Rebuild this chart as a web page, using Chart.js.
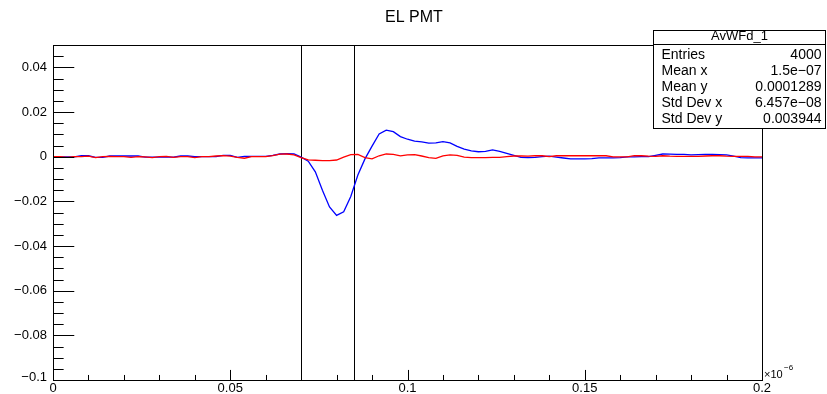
<!DOCTYPE html>
<html>
<head>
<meta charset="utf-8">
<script src="https://cdn.jsdelivr.net/npm/chart.js@4"></script>
<style>
  html, body { margin: 0; padding: 0; background: #fff; }
  canvas { display: block; }
</style>
</head>
<body>
<canvas id="c" width="827" height="394"></canvas>
<script>
// time axis in units of 1e-6
const xs = [
  0.000, 0.002, 0.004, 0.006, 0.008, 0.010, 0.012, 0.014, 0.016, 0.018,
  0.020, 0.022, 0.024, 0.026, 0.028, 0.030, 0.032, 0.034, 0.036, 0.038,
  0.040, 0.042, 0.044, 0.046, 0.048, 0.050, 0.052, 0.054, 0.056, 0.058,
  0.060, 0.062, 0.064, 0.066, 0.068, 0.070, 0.072, 0.074, 0.076, 0.078,
  0.080, 0.082, 0.084, 0.086, 0.088, 0.090, 0.092, 0.094, 0.096, 0.098,
  0.100, 0.102, 0.104, 0.106, 0.108, 0.110, 0.112, 0.114, 0.116, 0.118,
  0.120, 0.122, 0.124, 0.126, 0.128, 0.130, 0.132, 0.134, 0.136, 0.138,
  0.140, 0.142, 0.144, 0.146, 0.148, 0.150, 0.152, 0.154, 0.156, 0.158,
  0.160, 0.162, 0.164, 0.166, 0.168, 0.170, 0.172, 0.174, 0.176, 0.178,
  0.180, 0.182, 0.184, 0.186, 0.188, 0.190, 0.192, 0.194, 0.196, 0.198,
  0.200
];

// averaged waveform (blue)
const avgWave = [
  -0.0001, -0.0001, -0.0001, -0.0001, 0.0004, 0.0004, -0.0003, -0.0003, 0.0003, 0.0003,
  0.0003, 0.0003, 0.0003, -0.0002, -0.0002, -0.0002, -0.0002, -0.0002, 0.0003, 0.0003,
  0.0000, 0.0000, 0.0000, 0.0000, 0.0006, 0.0006, -0.0003, 0.0001, 0.0001, 0.0001,
  0.0001, 0.0006, 0.0012, 0.0014, 0.0012, -0.0002, -0.0020, -0.0068, -0.0150, -0.0225,
  -0.0263, -0.0247, -0.0178, -0.0082, -0.0010, 0.0047, 0.0102, 0.0119, 0.0112, 0.0090,
  0.0078, 0.0070, 0.0066, 0.0061, 0.0062, 0.0067, 0.0062, 0.0046, 0.0034, 0.0026,
  0.0022, 0.0024, 0.0030, 0.0024, 0.0015, 0.0006, -0.0003, -0.0004, -0.0003, 0.0000,
  0.0002, -0.0002, -0.0006, -0.0010, -0.0010, -0.0010, -0.0009, -0.0005, -0.0005, -0.0005,
  -0.0004, -0.0001, -0.0001, 0.0000, 0.0000, 0.0006, 0.0012, 0.0011, 0.0010, 0.0010,
  0.0008, 0.0009, 0.0010, 0.0010, 0.0009, 0.0008, 0.0002, -0.0004, -0.0005, -0.0005,
  -0.0005
];

// second waveform (red)
const refWave = [
  0.0000, 0.0000, -0.0003, 0.0000, 0.0000, 0.0002, -0.0004, 0.0000, 0.0001, 0.0000,
  0.0000, -0.0003, 0.0000, -0.0001, -0.0004, 0.0000, 0.0001, -0.0003, 0.0000, 0.0000,
  -0.0004, 0.0000, 0.0000, 0.0003, 0.0005, 0.0002, -0.0003, -0.0007, 0.0000, 0.0000,
  0.0000, 0.0005, 0.0011, 0.0012, 0.0008, -0.0004, -0.0014, -0.0016, -0.0018, -0.0018,
  -0.0015, -0.0002, 0.0009, 0.0010, -0.0004, -0.0010, 0.0004, 0.0012, 0.0010, 0.0004,
  0.0008, 0.0009, 0.0003, -0.0004, -0.0008, 0.0004, 0.0008, 0.0006, -0.0002, -0.0004,
  -0.0004, -0.0004, -0.0003, -0.0003, 0.0000, 0.0003, 0.0003, 0.0002, 0.0004, 0.0004,
  0.0000, 0.0004, 0.0004, 0.0004, 0.0004, 0.0004, 0.0004, 0.0004, 0.0004, -0.0001,
  -0.0001, -0.0001, 0.0005, 0.0004, 0.0002, 0.0001, 0.0004, 0.0002, 0.0001, 0.0001,
  0.0001, 0.0001, 0.0003, 0.0004, 0.0004, 0.0002, 0.0001, 0.0001, 0.0001, -0.0001,
  -0.0001
];

// integration window edges
const windowEdges = [0.07, 0.085];

const xMajor = [0, 0.05, 0.1, 0.15, 0.2];
const xMajorLabels = ['0', '0.05', '0.1', '0.15', '0.2'];
const yMajor = [0.04, 0.02, 0, -0.02, -0.04, -0.06, -0.08, -0.1];
const yMajorLabels = ['0.04', '0.02', '0', '\u22120.02', '\u22120.04', '\u22120.06', '\u22120.08', '\u22120.1'];

const statsTitle = 'AvWFd_1';
const statsNames = ['Entries', 'Mean x', 'Mean y', 'Std Dev x', 'Std Dev y'];
const statsValues = ['4000', '1.5e\u221207', '0.0001289', '6.457e\u221208', '0.003944'];

const FONT = '"Liberation Sans", Arial, Helvetica, sans-serif';

const toPoints = (ys) => xs.map((x, i) => ({ x, y: ys[i] }));

// frame, ticks, labels, window lines, stats box, title
const rootStyle = {
  id: 'rootStyle',
  beforeDatasetsDraw(chart) {
    const { ctx, chartArea: a, scales: { x } } = chart;
    ctx.save();
    ctx.strokeStyle = '#000';
    ctx.lineWidth = 1;
    windowEdges.forEach((v) => {
      const px = Math.round(x.getPixelForValue(v)) + 0.5;
      ctx.beginPath();
      ctx.moveTo(px, a.top);
      ctx.lineTo(px, a.bottom);
      ctx.stroke();
    });
    ctx.restore();
  },
  afterDraw(chart) {
    const { ctx, chartArea: a, scales: { x, y } } = chart;
    ctx.save();
    ctx.strokeStyle = '#000';
    ctx.lineWidth = 1;
    ctx.strokeRect(a.left + 0.5, a.top + 0.5, a.right - a.left, a.bottom - a.top);

    // x ticks (inside, pointing up)
    const xLen = 0.03 * (a.bottom - a.top);
    ctx.beginPath();
    for (let i = 0; i <= 20; i++) {
      const v = i * 0.01;
      const px = Math.round(x.getPixelForValue(v)) + 0.5;
      const len = i % 5 === 0 ? xLen : xLen / 2;
      ctx.moveTo(px, a.bottom);
      ctx.lineTo(px, a.bottom - len);
    }
    // y ticks (inside, pointing right)
    const yLen = 0.03 * (a.right - a.left);
    for (let i = 0; i <= 30; i++) {
      const v = -0.1 + i * 0.005;
      const py = Math.round(y.getPixelForValue(v)) + 0.5;
      const len = i % 4 === 0 ? yLen : yLen / 2;
      ctx.moveTo(a.left, py);
      ctx.lineTo(a.left + len, py);
    }
    ctx.stroke();

    ctx.fillStyle = '#000';
    ctx.font = '13px ' + FONT;
    ctx.textBaseline = 'middle';
    ctx.textAlign = 'right';
    yMajor.forEach((v, i) => {
      let py = y.getPixelForValue(v);
      if (v === -0.1) py -= 3;
      ctx.fillText(yMajorLabels[i], a.left - 6, py);
    });
    ctx.textAlign = 'center';
    xMajor.forEach((v, i) => {
      ctx.fillText(xMajorLabels[i], x.getPixelForValue(v), a.bottom + 8);
    });

    // axis exponent
    ctx.textAlign = 'left';
    ctx.font = '11px ' + FONT;
    ctx.fillText('\u00d710', a.right + 2, a.bottom - 5);
    ctx.font = '8px ' + FONT;
    ctx.fillText('\u22126', a.right + 22, a.bottom - 12);

    // title
    ctx.font = '16px ' + FONT;
    ctx.textAlign = 'center';
    ctx.fillText('EL PMT', 414, 18);

    // stats box
    const bx = 653.5, by = 30.5, bw = 172, bh = 98;
    ctx.fillStyle = '#fff';
    ctx.fillRect(bx, by, bw, bh);
    ctx.strokeRect(bx, by, bw, bh);
    ctx.beginPath();
    ctx.moveTo(bx, by + 14);
    ctx.lineTo(bx + bw, by + 14);
    ctx.stroke();
    ctx.fillStyle = '#000';
    ctx.font = '13px ' + FONT;
    ctx.textAlign = 'center';
    ctx.fillText(statsTitle, bx + bw / 2, by + 6);
    ctx.font = '14px ' + FONT;
    statsNames.forEach((name, i) => {
      const ty = by + 25 + i * 15.8;
      ctx.textAlign = 'left';
      ctx.fillText(name, bx + 8, ty);
      ctx.textAlign = 'right';
      ctx.fillText(statsValues[i], bx + bw - 4, ty);
    });
    ctx.restore();
  }
};

new Chart(document.getElementById('c'), {
  type: 'line',
  data: {
    datasets: [
      {
        label: 'red',
        data: toPoints(refWave),
        borderColor: '#ff0000',
        borderWidth: 1.3,
        pointRadius: 0,
        tension: 0,
      },
      {
        label: 'blue',
        data: toPoints(avgWave),
        borderColor: '#0000ff',
        borderWidth: 1.3,
        pointRadius: 0,
        tension: 0,
      },
    ],
  },
  options: {
    responsive: false,
    animation: false,
    layout: { padding: { left: 53, right: 65, top: 45, bottom: 14 } },
    plugins: { legend: { display: false }, tooltip: { enabled: false } },
    scales: {
      x: { type: 'linear', min: 0, max: 0.2, display: false },
      y: { type: 'linear', min: -0.1, max: 0.05, display: false },
    },
  },
  plugins: [rootStyle],
});
</script>
</body>
</html>
